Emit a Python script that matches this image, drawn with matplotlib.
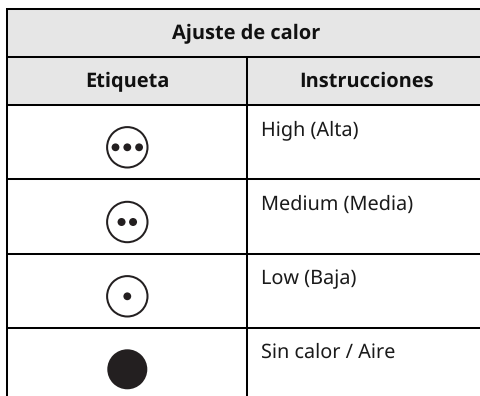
import matplotlib
matplotlib.use("Agg")
import matplotlib.pyplot as plt
from matplotlib.patches import Rectangle, Circle

title = "Ajuste de calor"
col_headers = ["Etiqueta", "Instrucciones"]
instructions = ["High (Alta)", "Medium (Media)", "Low (Baja)", "Sin calor / Aire"]
dot_counts = [3, 2, 1, 0]
row_lines = [9, 57, 105, 179, 254, 328]
row_centers = [147.3, 222, 296.3, 369.3]
text_baselines = [135, 210, 284, 358]

plt.rcParams['font.family'] = ['Noto Sans', 'DejaVu Sans']
plt.rcParams['text.hinting'] = 'no_hinting'
plt.rcParams['text.hinting_factor'] = 1
fig = plt.figure(figsize=(4.8, 3.96), dpi=100)
ax = fig.add_axes([0, 0, 1, 1])
ax.set_xlim(0, 480)
ax.set_ylim(396, 0)
ax.axis("off")

L, M, R, B = 6.5, 246.5, 480, 396
INK = "#231f20"
ax.add_patch(Rectangle((L, 9), R - L, 96, fc="#e6e6e6", ec="none", zorder=0))
for y in row_lines:
    ax.plot([L - 1, R], [y, y], color="black", lw=1.45, solid_capstyle="butt", zorder=2)
ax.plot([L, L], [8, B], color="black", lw=1.45, solid_capstyle="butt", zorder=2)
ax.plot([M, M], [57, B], color="black", lw=1.45, solid_capstyle="butt", zorder=2)

head = dict(ha="center", va="baseline", fontsize=14.4, fontweight="bold",
            color="#111111", family=["Open Sans", "DejaVu Sans"])
ax.text(246.5, 39.3, title, **head)
ax.text(127, 87, col_headers[0], **head)
ax.text(366.5, 87, col_headers[1], **head)

for text, n, cy, base in zip(instructions, dot_counts, row_centers, text_baselines):
    ax.text(261, base, text, ha="left", va="baseline", fontsize=14.3, color="#1a1a1a")
    cx = 127.3
    if n == 0:
        ax.add_patch(Circle((cx, cy), 20, fc=INK, ec="none"))
        continue
    ax.add_patch(Circle((cx, cy), 20.2, fc="white", ec=INK, lw=1.45))
    radius = {1: 3.9, 2: 4.0, 3: 3.9}[n]
    step = {1: 0, 2: 11.5, 3: 11.8}[n]
    for i in range(n):
        ax.add_patch(Circle((cx + (i - (n - 1) / 2) * step, cy), radius, fc=INK, ec="none"))

fig.savefig("out.png", dpi=100)
